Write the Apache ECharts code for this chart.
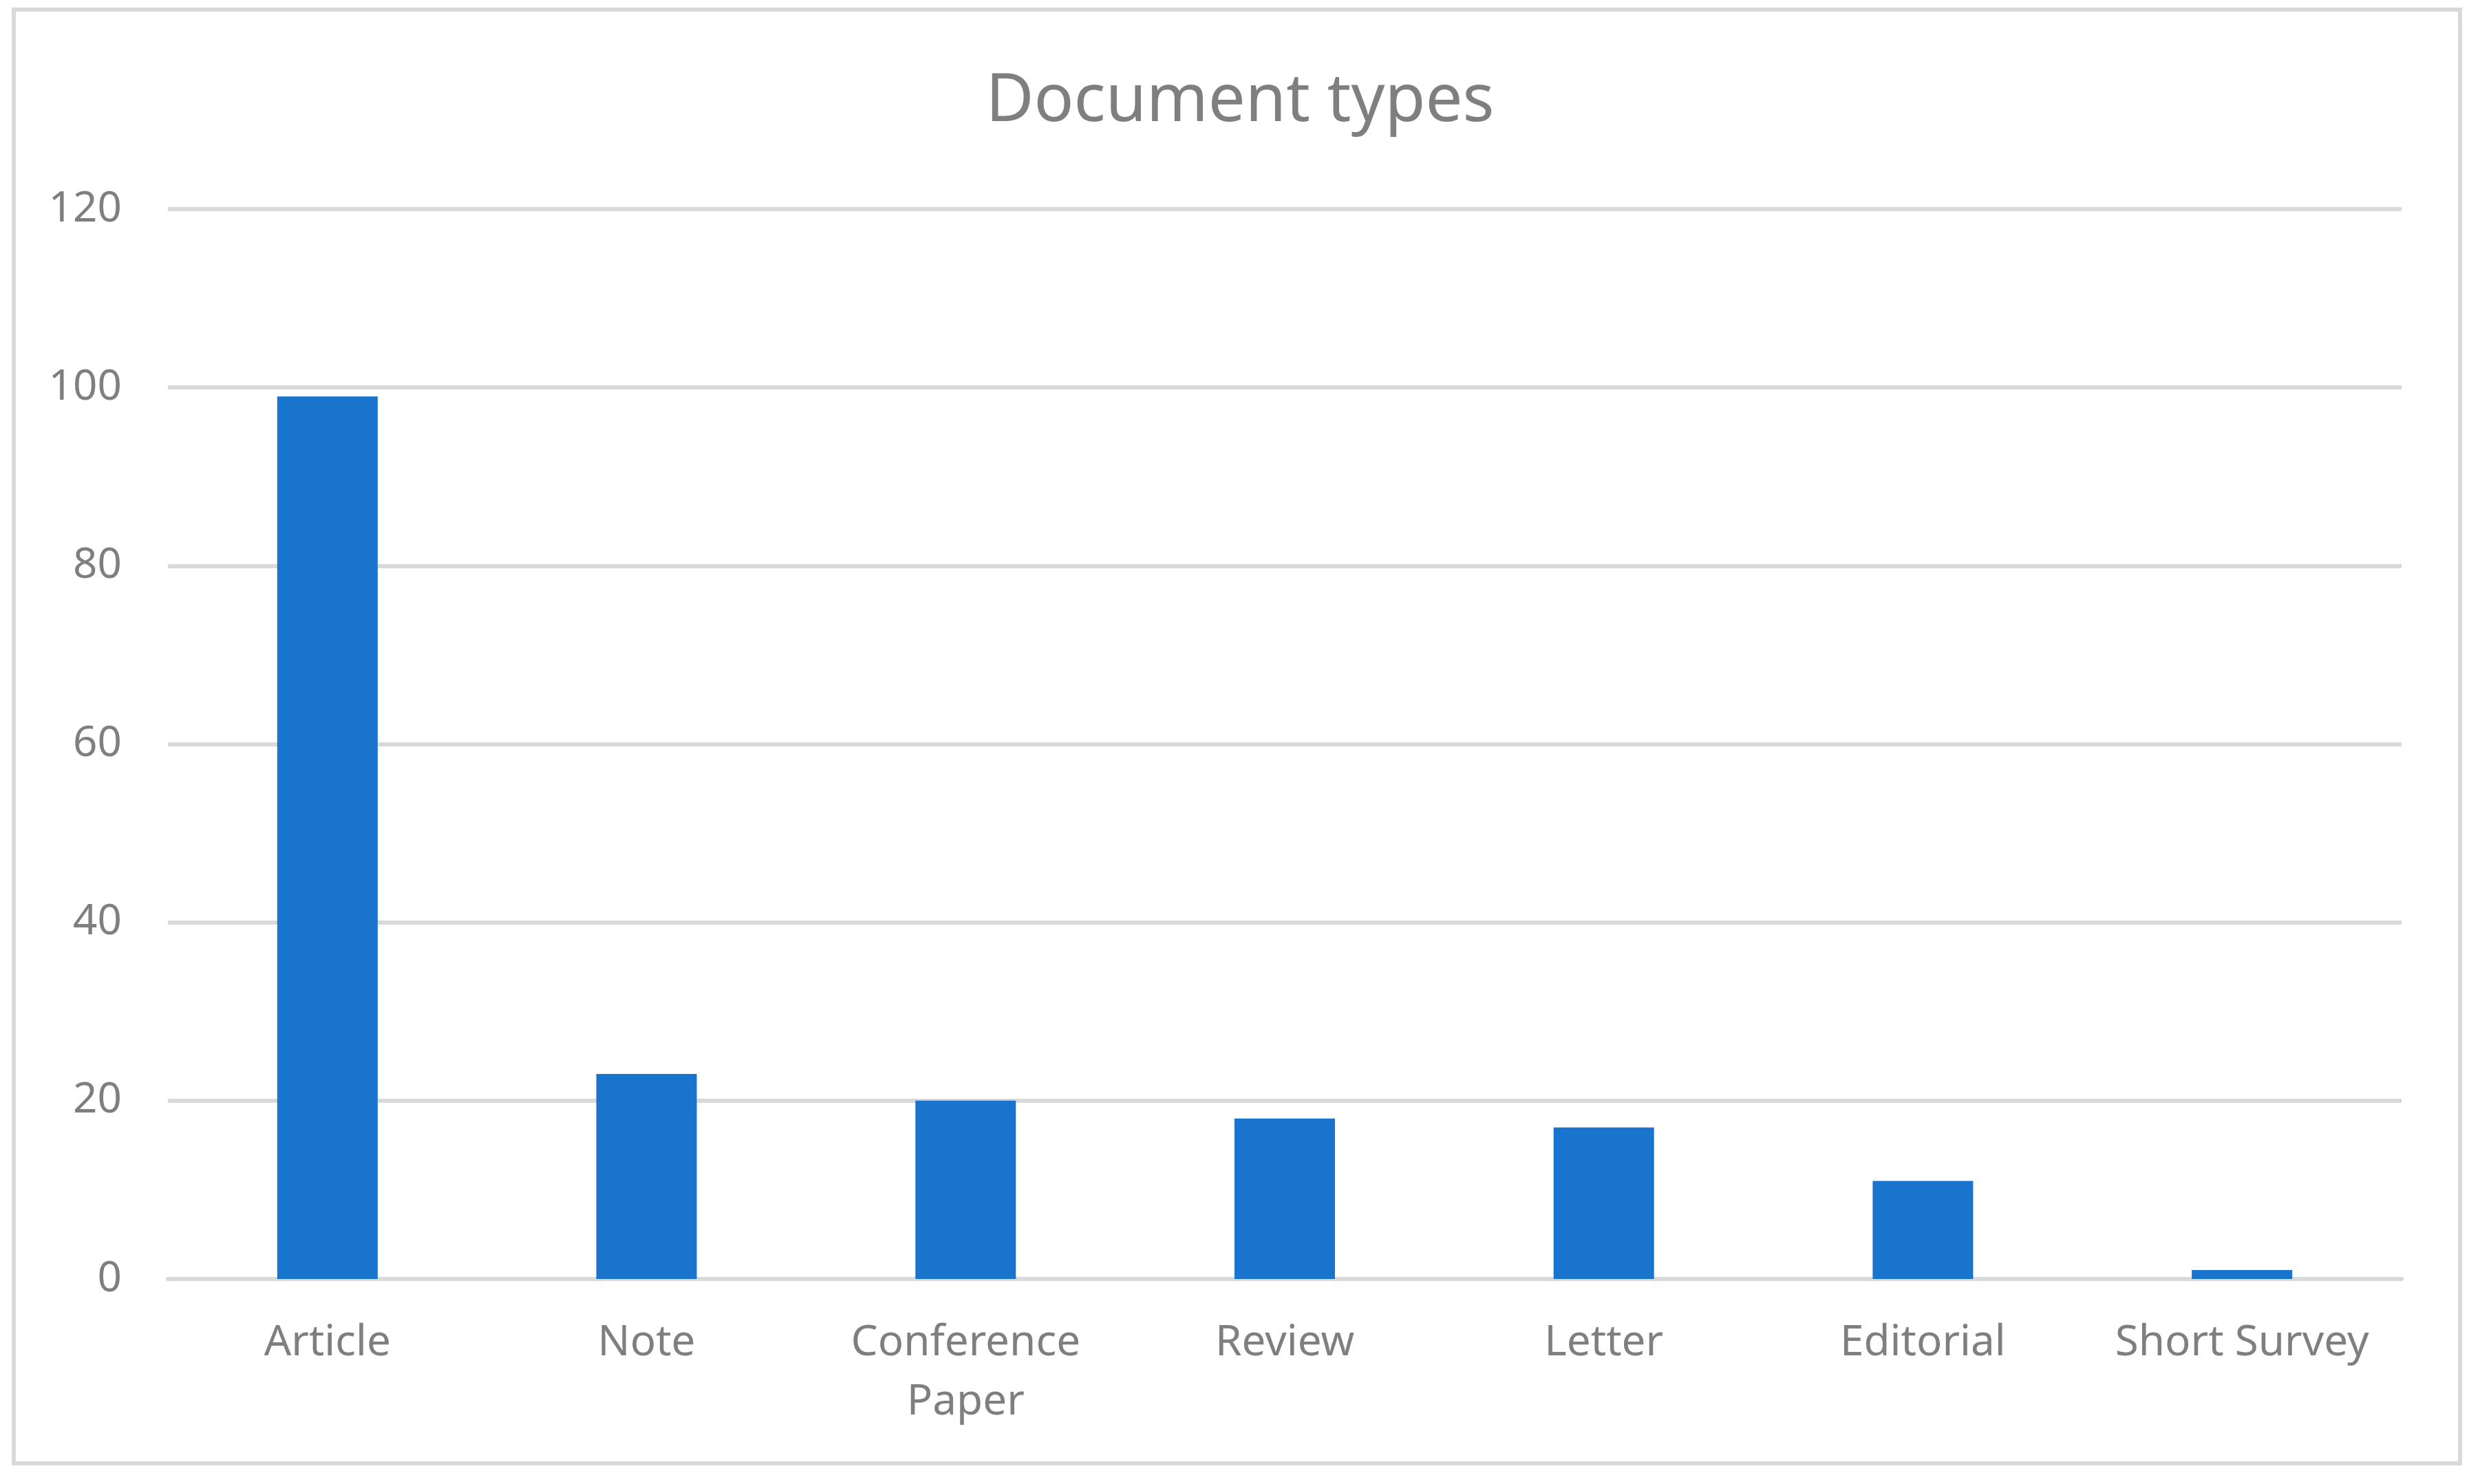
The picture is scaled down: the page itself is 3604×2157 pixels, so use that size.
<!DOCTYPE html>
<html lang="en">
<head>
    <meta charset="utf-8">
    <title>Document types</title>
    <style>
        html, body {
            margin: 0;
            padding: 0;
            background: #ffffff;
        }

        #chart {
            width: 3604px;
            height: 2157px;
        }
    </style>
</head>

<body>
    <div id="chart"></div>

<script src="https://cdn.jsdelivr.net/npm/echarts@6/dist/echarts.min.js"></script>
<script>
    // data
    var categories = ['Article', 'Note', 'Conference Paper', 'Review', 'Letter', 'Editorial', 'Short Survey'];
    var counts = [99, 23, 20, 18, 17, 11, 1];
    var yTicks = { min: 0, max: 120, step: 20 };

    var textGrey = '#7f7f7f';
    var lineGrey = '#d9d9d9';
    var fontName = '"Noto Sans", sans-serif';

    var myChart = echarts.init(document.getElementById('chart'));

    var option = {
        backgroundColor: '#ffffff',
        animation: false,
        title: {
            text: 'Document types',
            left: 'center',
            top: 96,
            textStyle: {
                color: textGrey,
                fontFamily: fontName,
                fontSize: 96,
                fontWeight: 'normal'
            }
        },
        // outer chart frame
        graphic: [{
            type: 'rect',
            shape: { x: 20, y: 14, width: 3555, height: 2113 },
            style: { fill: 'none', stroke: lineGrey, lineWidth: 6 },
            silent: true
        }],
        grid: {
            left: 244,
            right: 114,
            top: 304,
            bottom: 298,
            containLabel: false
        },
        xAxis: {
            type: 'category',
            data: categories,
            axisLine: { show: true, lineStyle: { color: lineGrey, width: 6 } },
            axisTick: { show: false },
            axisLabel: {
                interval: 0,
                color: textGrey,
                fontFamily: fontName,
                fontSize: 62,
                lineHeight: 86,
                margin: 50,
                // long names wrap onto two lines, like the original
                formatter: function (name) {
                    return name.length > 14 ? name.replace(' ', '\n') : name;
                }
            }
        },
        yAxis: {
            type: 'value',
            min: yTicks.min,
            max: yTicks.max,
            interval: yTicks.step,
            axisLine: { show: false },
            axisTick: { show: false },
            splitLine: { show: true, lineStyle: { color: lineGrey, width: 6 } },
            axisLabel: {
                color: textGrey,
                fontFamily: fontName,
                fontSize: 62,
                margin: 67
            }
        },
        series: [{
            type: 'bar',
            data: counts,
            barWidth: 146,
            itemStyle: { color: '#1874cd' }
        }]
    };
    myChart.setOption(option);
</script>
</body>
</html>
